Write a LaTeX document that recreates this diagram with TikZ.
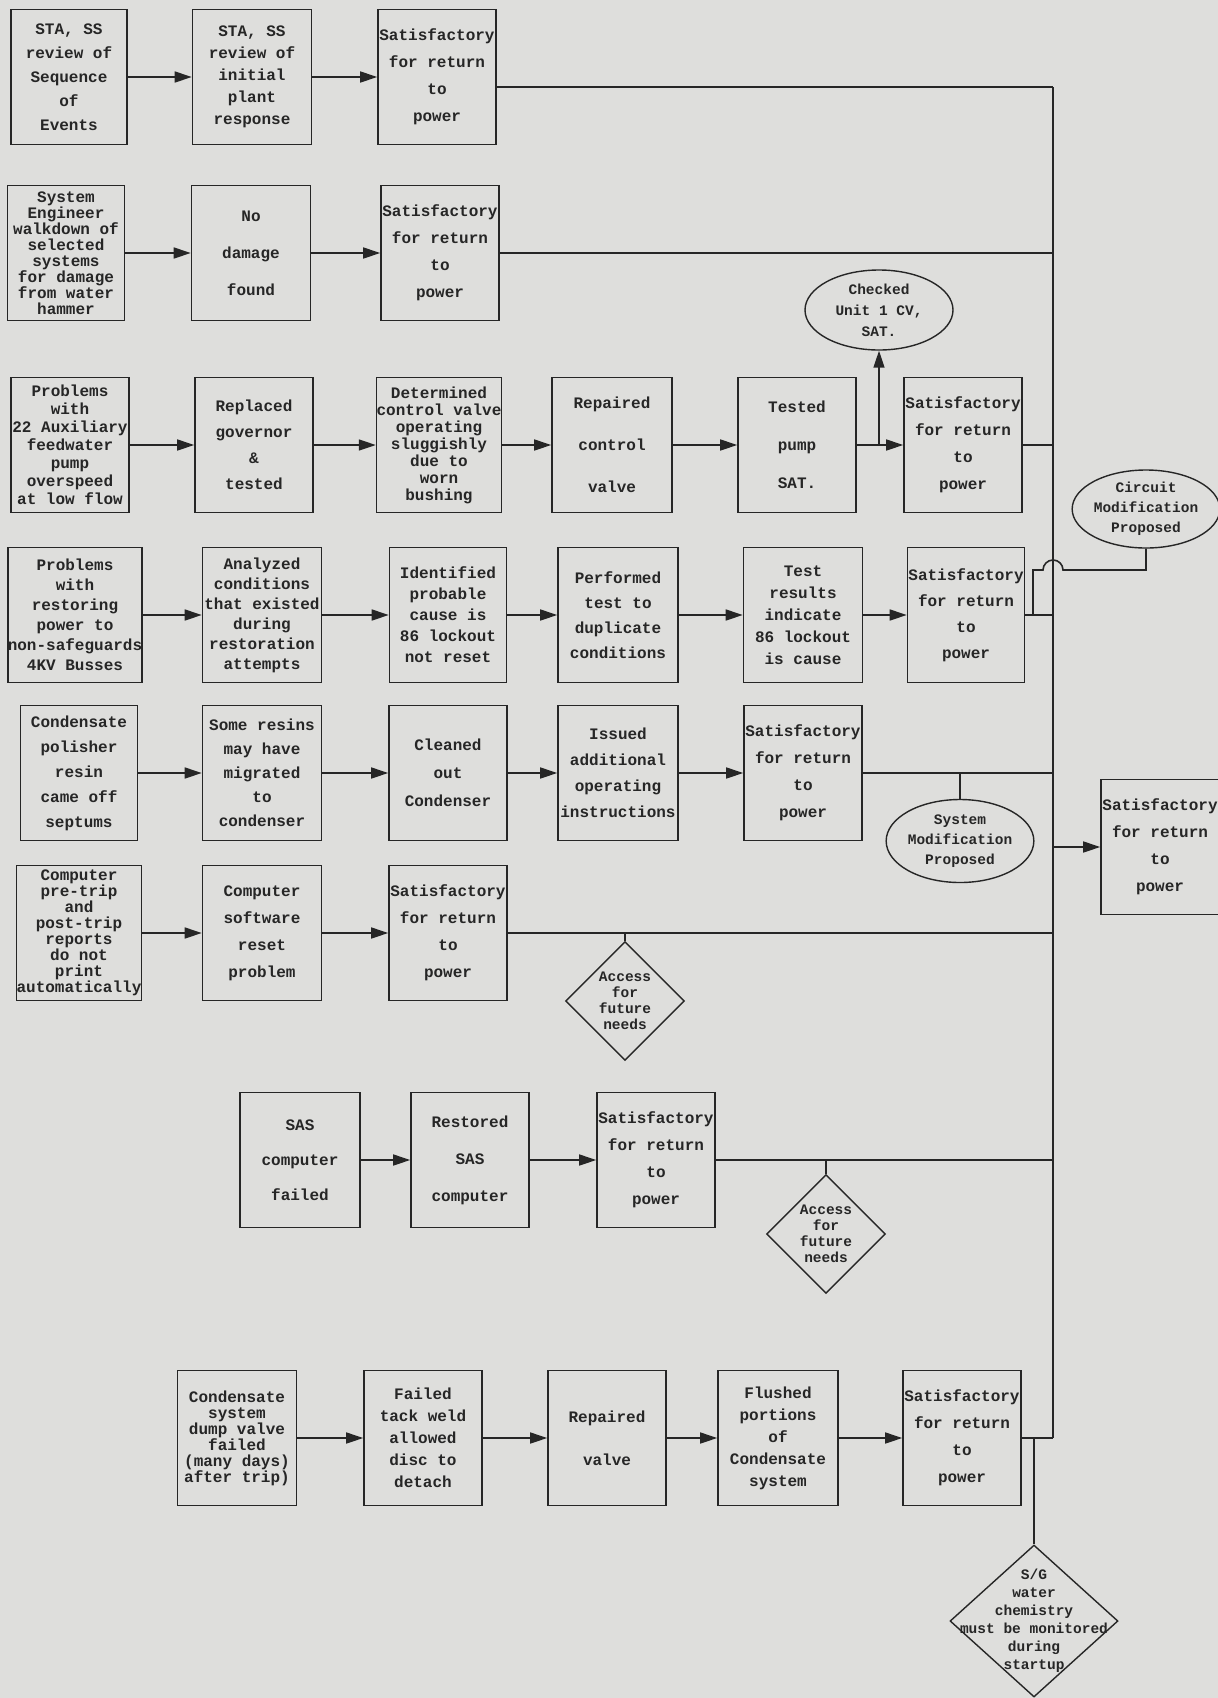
\documentclass[tikz,border=0pt]{standalone}
\usepackage{fontspec}
\setmonofont{Liberation Mono}
\usepackage{xcolor}
\usepackage{tikz}
\usetikzlibrary{arrows.meta,shapes.geometric}
\definecolor{paper}{RGB}{222,222,220}
\definecolor{ink}{RGB}{38,38,38}
\def\width{1218}
\def\hauteur{1698}
\def\bx#1{\ttfamily\bfseries\fontsize{16}{#1}\selectfont}
\def\sm#1{\ttfamily\bfseries\fontsize{14.5}{#1}\selectfont}
% row heights
\def\ya{77}
\def\yb{253}
\def\yc{445}
\def\yd{615}
\def\ye{773}
\def\yf{933}
\def\yg{1160}
\def\yh{1438}

\begin{document}
\begin{tikzpicture}[x=1pt, y=-1pt, ink,
  box/.style={draw, line width=1.6pt, minimum width=118pt, minimum height=135pt, inner sep=0pt, align=center, font=\bx{27}},
  lsk/.style={font=\bx{#1}},
  oval/.style={draw, ellipse, line width=1.4pt, inner sep=0pt, align=center},
  dia/.style={draw, diamond, line width=1.4pt, inner sep=0pt},
  ln/.style={line width=1.6pt},
  arr/.style={line width=1.6pt, -{Triangle[length=17pt,width=11pt]}}]
\fill[paper] (0,0) rectangle (\width,\hauteur);
\useasboundingbox (0,0) rectangle (\width,\hauteur);
%\draw[step=100, line width=0.2pt, gray] (0,0) grid (\width,\hauteur);

% row a
\node[box, lsk=24, minimum width=116pt] (a1) at (69,\ya) {STA, SS\\review of\\Sequence\\of\\Events};
\node[box, lsk=22, minimum width=119pt] (a2) at (252,\ya) {STA, SS\\review of\\initial\\plant\\response};
\node[box] (a3) at (437,\ya) {Satisfactory\\for return\\to\\power};
\draw[arr] (a1) -- (a2);
\draw[arr] (a2) -- (a3);

% row b
\node[box, lsk=16, minimum width=117pt] (b1) at (66,\yb) {System\\Engineer\\walkdown of\\selected\\systems\\for damage\\from water\\hammer};
\node[box, lsk=37, minimum width=119pt] (b2) at (251,\yb) {No\\damage\\found};
\node[box] (b3) at (440,\yb) {Satisfactory\\for return\\to\\power};
\draw[arr] (b1) -- (b2);
\draw[arr] (b2) -- (b3);

% row c
\node[box, lsk=18] (c1) at (70,\yc) {Problems\\with\\22 Auxiliary\\feedwater\\pump\\overspeed\\at low flow};
\node[box, lsk=26] (c2) at (254,\yc) {Replaced\\governor\\\&\\tested};
\node[box, lsk=17] (c3) at (439,\yc) {Determined\\control valve\\operating\\sluggishly\\due to\\worn\\bushing};
\node[box, lsk=42, minimum width=120pt] (c4) at (612,\yc) {Repaired\\control\\valve};
\node[box, lsk=38] (c5) at (797,\yc) {Tested\\pump\\SAT.};
\node[box] (c6) at (963,\yc) {Satisfactory\\for return\\to\\power};
\node[oval, font=\sm{21}, minimum width=148pt, minimum height=80pt] (chk) at (879,310) {Checked\\Unit 1 CV,\\SAT.};
\coordinate (cj) at (879,\yc);
\draw[arr] (c1) -- (c2);
\draw[arr] (c2) -- (c3);
\draw[arr] (c3) -- (c4);
\draw[arr] (c4) -- (c5);
\draw[arr] (c5) -- (c6);
\draw[arr] (cj) -- (chk);

% row d
\node[box, lsk=20, minimum width=126pt] (d1) at (75,\yd) {Problems\\with\\restoring\\power to\\non-safeguards\\4KV Busses};
\node[box, lsk=20, minimum width=119pt] (d2) at (262,\yd) {Analyzed\\conditions\\that existed\\during\\restoration\\attempts};
\node[box, lsk=21, minimum width=117pt] (d3) at (448,\yd) {Identified\\probable\\cause is\\86 lockout\\not reset};
\node[box, lsk=25, minimum width=120pt] (d4) at (618,\yd) {Performed\\test to\\duplicate\\conditions};
\node[box, lsk=22, minimum width=119pt] (d5) at (803,\yd) {Test\\results\\indicate\\86 lockout\\is cause};
\node[box, lsk=26, minimum width=117pt] (d6) at (966,\yd) {Satisfactory\\for return\\to\\power};
\node[oval, font=\sm{20}, minimum width=143pt, minimum height=78pt] (cir) at (1146,509) {Circuit\\Modification\\Proposed};
\coordinate (dj) at (1033,\yd);
\coordinate (dk) at (1033,570);
\coordinate (hop) at (1053,570);
\draw[arr] (d1) -- (d2);
\draw[arr] (d2) -- (d3);
\draw[arr] (d3) -- (d4);
\draw[arr] (d4) -- (d5);
\draw[arr] (d5) -- (d6);

% row e
\node[box, lsk=25, minimum width=117pt] (e1) at (79,\ye) {Condensate\\polisher\\resin\\came off\\septums};
\node[box, lsk=24, minimum width=119pt] (e2) at (262,\ye) {Some resins\\may have\\migrated\\to\\condenser};
\node[box, lsk=28] (e3) at (448,\ye) {Cleaned\\out\\Condenser};
\node[box, lsk=26, minimum width=120pt] (e4) at (618,\ye) {Issued\\additional\\operating\\instructions};
\node[box] (e5) at (803,\ye) {Satisfactory\\for return\\to\\power};
\node[oval, font=\sm{20}, minimum width=147pt, minimum height=83pt] (sys) at (960,841) {System\\Modification\\Proposed};
\coordinate (ej) at (960,\ye);
\draw[arr] (e1) -- (e2);
\draw[arr] (e2) -- (e3);
\draw[arr] (e3) -- (e4);
\draw[arr] (e4) -- (e5);
\draw[ln] (ej) -- (sys);

% row f
\node[box, lsk=16, minimum width=117pt] (f1) at (79,\yf) {Computer\\pre-trip\\and\\post-trip\\reports\\do not\\print\\automatically};
\node[box, minimum width=119pt] (f2) at (262,\yf) {Computer\\software\\reset\\problem};
\node[box] (f3) at (448,\yf) {Satisfactory\\for return\\to\\power};
\node[dia, minimum width=119pt, minimum height=119pt,
  label={[font=\sm{16}, align=center]center:{Access\\for\\future\\needs}}] (fd) at (625,1001) {};
\coordinate (fj) at (625,\yf);
\draw[arr] (f1) -- (f2);
\draw[arr] (f2) -- (f3);
\draw[ln] (fj) -- (fd);

% row g
\node[box, lsk=35, minimum width=120pt] (g1) at (300,\yg) {SAS\\computer\\failed};
\node[box, lsk=37] (g2) at (470,\yg) {Restored\\SAS\\computer};
\node[box] (g3) at (656,\yg) {Satisfactory\\for return\\to\\power};
\node[dia, minimum width=119pt, minimum height=119pt,
  label={[font=\sm{16}, align=center]center:{Access\\for\\future\\needs}}] (gd) at (826,1234) {};
\coordinate (gj) at (826,\yg);
\draw[arr] (g1) -- (g2);
\draw[arr] (g2) -- (g3);
\draw[ln] (gj) -- (gd);

% row h
\node[box, lsk=16, minimum width=119pt] (h1) at (237,\yh) {Condensate\\system\\dump valve\\failed\\(many days)\\after trip)};
\node[box, lsk=22] (h2) at (423,\yh) {Failed\\tack weld\\allowed\\disc to\\detach};
\node[box, lsk=43] (h3) at (607,\yh) {Repaired\\valve};
\node[box, lsk=22, minimum width=120pt] (h4) at (778,\yh) {Flushed\\portions\\of\\Condensate\\system};
\node[box] (h5) at (962,\yh) {Satisfactory\\for return\\to\\power};
\node[dia, minimum width=168pt, minimum height=152pt,
  label={[font=\sm{18}, align=center]center:{S/G\\water\\chemistry\\must be monitored\\during\\startup}}] (hd) at (1034,1621) {};
\coordinate (hj) at (1034,\yh);
\draw[arr] (h1) -- (h2);
\draw[arr] (h2) -- (h3);
\draw[arr] (h3) -- (h4);
\draw[arr] (h4) -- (h5);
\draw[ln] (hj) -- (hd);

% common line on the right
\coordinate (bustop) at (1053,87);
\coordinate (busbot) at (1053,\yh);
\node[box] (z) at (1160,847) {Satisfactory\\for return\\to\\power};
\draw[ln] (bustop) -- (busbot);
\draw[ln] ([yshift=-10pt]a3.east) -- (bustop);
\draw[ln] (b3.east) -- (b3.east -| bustop);
\draw[ln] (c6.east) -- (c6.east -| bustop);
\draw[ln] (d6.east) -- (d6.east -| bustop);
\draw[ln] (e5.east) -- (e5.east -| bustop);
\draw[ln] (f3.east) -- (f3.east -| bustop);
\draw[ln] (g3.east) -- (g3.east -| bustop);
\draw[ln] (h5.east) -- (busbot);
\draw[ln] (dj) -- (dk) -- ([xshift=-10pt]hop) arc[start angle=180, end angle=0, radius=10pt] -- (cir.south |- hop) -- (cir.south);
\draw[arr] (z.west -| bustop) -- (z.west);
\end{tikzpicture}
\end{document}
